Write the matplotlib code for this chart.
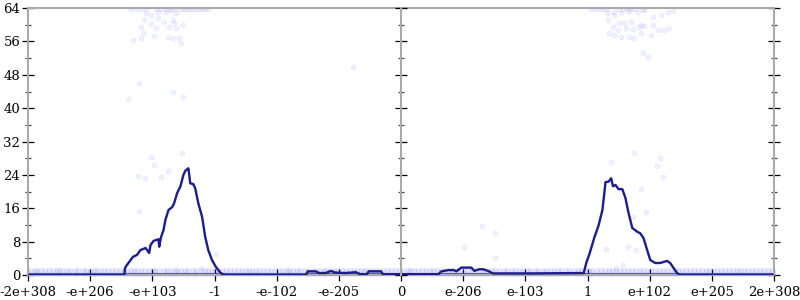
import matplotlib.pyplot as plt

# x positions are in "tick units": -6 ... 6, one unit per labelled tick
tick_pos = [-6, -5, -4, -3, -2, -1, 0, 1, 2, 3, 4, 5, 6]
tick_labels = ["-2e+308", "-e+206", "-e+103", "-1", "-e-102", "-e-205", "0",
               "e-206", "e-103", "1", "e+102", "e+205", "2e+308"]
y_major = [0, 8, 16, 24, 32, 40, 48, 56, 64]
y_minor = [4, 12, 20, 28, 36, 44, 52, 60]

# density line
line_x = [-6.0, -4.45, -4.44, -4.41, -4.31, -4.25, -4.19, -4.11, -4.05, -4.03,
          -3.98, -3.90, -3.89, -3.86, -3.82, -3.79, -3.74, -3.68, -3.65, -3.60,
          -3.55, -3.50, -3.47, -3.42, -3.39, -3.34, -3.31, -3.26, -3.20, -3.15,
          -3.10, -3.04, -2.98, -2.90, -2.84, -1.53, -1.50, -1.37, -1.32, -1.21,
          -1.13, -1.05, -0.89, -0.73, -0.65, -0.55, -0.52, -0.32, -0.29, 0.0,
          0.60, 0.65, 0.76, 0.85, 0.89, 0.97, 1.02, 1.13, 1.18, 1.26,
          1.32, 1.40, 1.48, 2.10, 2.94, 2.98, 3.03, 3.11, 3.18, 3.24,
          3.27, 3.29, 3.34, 3.38, 3.41, 3.45, 3.50, 3.56, 3.61, 3.66,
          3.72, 3.80, 3.85, 3.90, 3.96, 4.01, 4.09, 4.17, 4.28, 4.33,
          4.44, 4.49, 6.0]
line_y = [0.0, 0.0, 1.7, 2.4, 4.4, 4.8, 6.0, 6.5, 5.3, 7.2,
          8.2, 8.6, 6.8, 9.1, 10.8, 13.2, 15.6, 16.3, 17.2, 19.7,
          21.2, 24.0, 25.0, 25.6, 22.0, 21.8, 20.8, 17.2, 14.0, 9.2,
          6.0, 3.6, 2.0, 0.5, 0.0, 0.0, 0.9, 0.9, 0.5, 0.5,
          1.0, 0.6, 0.5, 0.7, 0.2, 0.2, 0.9, 0.9, 0.2, 0.2,
          0.2, 0.9, 1.2, 1.2, 0.9, 1.8, 1.8, 1.8, 1.0, 1.4,
          1.4, 1.0, 0.4, 0.4, 0.5, 2.9, 5.0, 9.0, 12.0, 15.6,
          19.6, 22.3, 22.4, 23.2, 21.3, 21.6, 20.6, 20.6, 18.5, 14.9,
          11.3, 10.4, 10.0, 8.9, 6.0, 3.6, 2.9, 2.9, 3.4, 2.9,
          0.5, 0.0, 0.0]

# individual samples (faint circles)
pts_x = [-4.34, -4.26, -4.18, -4.10, -3.94, -3.86, -3.78, -3.70, -3.62, -3.54,
         -3.49, -3.44, -3.39, -3.34, -3.30, -3.25, -3.20, -3.15, -3.10,
         -4.10, -4.02, -3.91, -3.78, -3.70, -3.62,
         -4.13, -3.91, -3.81, -3.67, -3.65, -3.50, -4.02, -4.18, -3.94, -3.73, -3.62,
         -4.15, -3.97, -3.75, -3.67, -3.57, -4.31, -4.18, -3.54,
         -4.21, -3.67, -3.50, -4.39, -4.02, -3.52, -3.97, -4.23, -4.12, -3.86,
         -3.75, -4.21, -2.97, -3.22, -0.77,
         3.05, 3.12, 3.18, 3.25, 3.31, 3.50, 3.57, 3.63, 3.70, 3.76, 3.89,
         3.33, 3.42, 3.54, 3.67, 3.81, 3.91,
         3.33, 3.42, 3.50, 3.59, 3.70, 3.86, 4.05, 4.18, 4.29, 4.37,
         3.41, 3.49, 3.62, 3.73, 3.83, 3.91, 4.05, 4.13, 4.23, 4.31,
         3.34, 3.42, 3.54, 3.67, 3.75, 3.86, 4.02, 3.89, 3.97,
         3.75, 4.16, 3.38, 4.12, 4.21, 3.86, 3.94, 3.73, 3.30, 3.65,
         3.78, 3.57, 3.46, 1.30, 1.51, 1.01, 1.51]
pts_y = [63.7, 63.7, 63.7, 63.7, 63.7, 63.7, 63.7, 63.7, 63.7, 63.7,
         63.7, 63.7, 63.7, 63.7, 63.7, 63.7, 63.7, 63.7, 63.7,
         62.8, 62.3, 63.0, 63.0, 63.5, 62.8,
         61.1, 61.6, 60.6, 61.1, 60.4, 59.9, 60.2, 59.4, 59.2, 59.4, 59.2,
         58.0, 57.3, 57.0, 56.8, 56.8, 56.3, 56.8, 55.6,
         46.0, 43.9, 42.7, 42.2, 28.3, 29.2, 26.4, 23.7, 23.3, 23.5,
         24.9, 15.3, 5.0, 1.7, 49.9,
         63.7, 63.7, 63.7, 63.7, 63.7, 63.7, 63.7, 63.7, 63.7, 63.7, 63.7,
         62.8, 63.0, 62.8, 63.3, 63.0, 63.5,
         61.1, 62.3, 60.4, 60.4, 60.6, 59.9, 61.8, 62.3, 63.0, 63.5,
         59.4, 58.7, 59.2, 59.0, 59.4, 59.7, 59.9, 58.7, 58.7, 59.2,
         58.0, 57.5, 57.0, 57.0, 56.8, 58.0, 57.5, 53.2, 52.3,
         29.2, 28.0, 27.1, 26.1, 23.5, 20.6, 15.1, 13.9, 6.2, 6.7,
         6.0, 2.4, 1.7, 11.7, 10.1, 6.7, 4.1]

# dense band of samples sitting near zero
band_x = [-5.95, -5.85, -5.72, -5.6, -5.5, -5.38, -5.25, -5.12, -5.0, -4.9,
          -4.78, -4.65, -4.52, -4.4, -4.3, -4.18, -4.05, -3.95, -3.82, -3.7,
          -3.6, -3.48, -3.35, -3.22, -3.1, -3.0, -2.88, -2.75, -2.62, -2.5,
          -2.4, -2.28, -2.15, -2.02, -1.9, -1.8, -1.68, -1.55, -1.42, -1.3,
          -1.2, -1.08, -0.95, -0.82, -0.7, -0.6, -0.48, -0.35, -0.22, -0.1,
          0.05, 0.15, 0.28, 0.4, 0.52, 0.65, 0.78, 0.9, 1.02, 1.15,
          1.28, 1.4, 1.52, 1.65, 1.78, 1.9, 2.02, 2.15, 2.28, 2.4,
          2.52, 2.65, 2.78, 2.9, 3.02, 3.15, 3.28, 3.4, 3.52, 3.65,
          3.78, 3.9, 4.02, 4.15, 4.28, 4.4, 4.52, 4.65, 4.78, 4.9,
          5.02, 5.15, 5.28, 5.4, 5.52, 5.65, 5.78, 5.9]
band_shift = [0.0, 0.06]
band_levels = [0.3, 0.9, 1.2]
base_x = [-6, 6]
base_y = [0, 0]

plt.rcParams['font.family'] = ['DejaVu Serif']

fig = plt.figure(figsize=(8, 3), dpi=100)
ax = fig.add_axes([0.035, 0.083, 0.9325, 0.89])

dot = '#4040ff'
ax.plot(base_x, base_y, color='#3434e4', lw=2.8, alpha=0.85, zorder=2)
for lvl in band_levels:
    for sh in band_shift:
        ax.scatter([bx + sh for bx in band_x], [lvl] * len(band_x), s=12,
                   color=dot, alpha=0.06, linewidths=0.6, zorder=2,
                   clip_on=False)
ax.scatter(pts_x, pts_y, s=12, color=dot, alpha=0.08, linewidths=0.6,
           zorder=2, clip_on=False)
ax.plot(line_x, line_y, color='#1c1c8c', lw=1.7, zorder=3)

ax.set_xlim(-6, 6)
ax.set_ylim(0, 64)
ax.set_xticks(tick_pos)
ax.set_xticklabels(tick_labels)
ax.set_yticks(y_major)
ax.set_yticks(y_minor, minor=True)

gray = '#aaaaaa'
for side in ['left', 'right', 'top', 'bottom']:
    ax.spines[side].set_color(gray)
    ax.spines[side].set_linewidth(1.5)
ax.tick_params(axis='both', which='major', direction='inout', length=9,
               width=0.9, color='black', labelsize=9.5, pad=1)
ax.tick_params(axis='y', which='both', right=True, labelright=False)
ax.tick_params(axis='y', which='minor', direction='inout', length=5,
               width=0.9, color='#444444')
ax.tick_params(axis='x', which='major', length=9, pad=3)

# middle axis at zero with its own ticks
mid = fig.add_axes(ax.get_position(), sharey=ax)
mid.set_xlim(-6, 6)
mid.patch.set_visible(False)
for side in ['right', 'top', 'bottom']:
    mid.spines[side].set_visible(False)
mid.spines['left'].set_position(('data', 0))
mid.spines['left'].set_color(gray)
mid.spines['left'].set_linewidth(1.5)
mid.set_xticks([])
mid.tick_params(axis='y', which='major', direction='inout', length=9,
                width=0.9, labelleft=False)
mid.tick_params(axis='y', which='minor', direction='inout', length=5,
                width=0.9, color='#444444', labelleft=False)

plt.savefig("out.png", dpi=100)
